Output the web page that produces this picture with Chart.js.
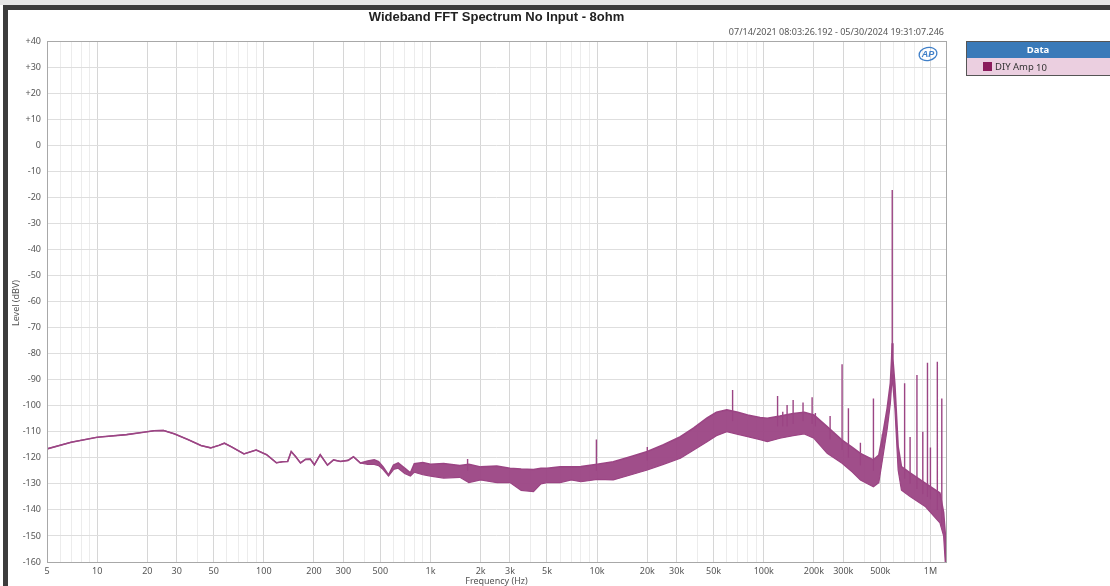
<!DOCTYPE HTML>
<html>
<head>
    <script src="https://cdn.jsdelivr.net/npm/chart.js"></script>
</head>
<body>
<style>
    * {
        margin: 0;
        padding: 0;
        box-sizing: border-box;
    }
    body {
        background: #ffffff;
        width: 1110px;
        height: 586px;
        overflow: hidden;
    }
</style>
<canvas id="myChart" width="1110" height="586"></canvas>
<script>
    // spectrum: frequency (Hz), upper and lower edge of the noise band (dBV)
    const freqs = [5, 7, 10, 15, 19, 22, 25, 29, 35, 42, 48, 54, 58, 64, 76, 90, 104, 119, 130, 139,
        146, 155, 166, 178, 190, 201, 218, 241, 262, 288, 320, 345, 380, 420, 460, 488, 520, 560, 600, 640,
        700, 758, 800, 900, 1000, 1200, 1500, 1700, 2000, 2500, 3000, 3500, 4150, 4600, 5000, 6000, 7000,
        8000, 10000, 12500, 16000, 20000, 25000, 31600, 38000, 45700, 52000, 60000, 70000, 80000, 95000,
        105000, 125000, 150000, 175000, 200000, 240000, 295000, 340000, 380000, 455000, 490000, 515000,
        550000, 575000, 585000, 590000, 595000, 612000, 640000, 670000, 755000, 935000, 1140000, 1200000,
        1230000, 1245000];
    const upperDb = [-116.6, -114.0, -112.1, -111.1, -110.2, -109.6, -109.5, -110.8, -113.0, -115.3, -116.2,
        -115.2, -114.4, -115.8, -118.5, -117.0, -118.8, -121.9, -121.5, -121.4,
        -117.6, -119.5, -122.0, -120.6, -120.5, -122.7, -118.8, -122.8, -120.8, -121.4, -121.0, -119.6,
        -122.0, -121.2, -120.8, -121.5, -123.5, -126.6, -122.8, -122.0,
        -124.0, -125.8, -122.3, -121.8, -122.5, -122.2, -123.0, -122.5, -123.5, -123.2, -124.0, -124.3,
        -124.5, -124.0, -124.0, -123.5, -123.5,
        -123.4, -122.5, -121.5, -119.5, -117.6, -115.0, -111.9, -108.5, -104.7, -102.5, -101.6, -102.5,
        -103.6, -104.5,
        -104.8, -104.0, -103.0, -102.5, -103.6, -108.0, -113.2, -116.0, -118.3, -120.8, -119.0, -111.9,
        -101.0, -91.3, -82.0, -76.0, -82.0, -92.0, -115.7, -123.4, -125.8, -129.8, -133.5, -141.0,
        -150.0, -166.0];
    const lowerDb = [-116.6, -114.0, -112.1, -111.1, -110.2, -109.6, -109.5, -110.8, -113.0, -115.3, -116.2,
        -115.2, -114.4, -115.8, -118.5, -117.0, -118.8, -121.9, -121.5, -121.4,
        -117.6, -119.5, -122.0, -120.6, -120.5, -122.7, -118.8, -122.8, -120.8, -121.4, -121.0, -119.6,
        -122.0, -122.5, -122.5, -123.0, -124.5, -127.0, -124.5, -124.0,
        -126.0, -127.0, -125.5, -126.5, -127.0, -127.8, -127.5, -129.5, -128.5, -129.5, -129.5, -132.5,
        -133.0, -130.0, -129.5, -129.5, -128.5,
        -129.2, -128.3, -128.5, -126.5, -124.7, -122.5, -120.2, -117.0, -113.8, -111.5, -110.0, -111.0,
        -111.9, -113.0,
        -113.8, -112.5, -111.5, -110.8, -112.5, -118.3, -122.1, -125.5, -128.5, -131.1, -129.5, -120.8,
        -109.0, -99.0, -92.0, -88.0, -92.0, -101.0, -124.7, -132.4, -134.9, -138.8, -145.0, -150.0,
        -161.0, -166.0];

    // discrete tones (spurs): frequency, peak level, level where it leaves the noise band
    const spikeFreqs = [1670, 9900, 20000, 65000, 121000, 130000, 138000, 150000, 172000, 195000, 204000,
        250000, 295000, 322000, 380000, 455000, 515000, 590000, 700000, 755000, 830000, 900000, 960000,
        1000000, 1100000, 1170000];
    const spikeTopDb = [-120.5, -113.0, -115.9, -94.0, -96.3, -102.3, -99.7, -97.8, -98.8, -96.8, -102.8,
        -104.0, -84.1, -101.0, -114.2, -97.2, -111.0, -17.2, -91.4, -112.0, -88.2, -110.0, -83.5,
        -116.0, -83.1, -97.2];
    const spikeBaseDb = [-125, -125, -121, -106, -108, -108, -108, -107, -106, -107, -108,
        -113, -117, -120, -123, -125, -116, -85, -128, -130, -132, -134, -135,
        -136, -140, -146];

    // axis ticks
    const majorFreqs = [5, 10, 20, 30, 50, 100, 200, 300, 500, 1000, 2000, 3000, 5000, 10000, 20000, 30000,
        50000, 100000, 200000, 300000, 500000, 1000000];
    const majorLabels = ['5', '10', '20', '30', '50', '100', '200', '300', '500', '1k', '2k', '3k', '5k', '10k',
        '20k', '30k', '50k', '100k', '200k', '300k', '500k', '1M'];
    const gridFreqs = [5, 6, 7, 8, 9, 10, 20, 30, 40, 50, 60, 70, 80, 90, 100, 200, 300, 400, 500, 600, 700,
        800, 900, 1000, 2000, 3000, 4000, 5000, 6000, 7000, 8000, 9000, 10000, 20000, 30000, 40000, 50000,
        60000, 70000, 80000, 90000, 100000, 200000, 300000, 400000, 500000, 600000, 700000, 800000, 900000,
        1000000];

    const traceColor = '#9b4584';

    const spikePoints = [];
    spikeFreqs.forEach((f, i) => {
        spikePoints.push({x: f, y: spikeBaseDb[i]}, {x: f, y: spikeTopDb[i]}, {x: f, y: null});
    });

    const frame = {
        id: 'frame',
        beforeDraw(chart) {
            const c = chart.ctx;
            c.save();
            c.fillStyle = '#ffffff';
            c.fillRect(0, 0, chart.width, chart.height);
            c.fillStyle = '#e6e6e6';
            c.fillRect(0, 0, chart.width, 5);
            c.fillStyle = '#3c3c3c';
            c.fillRect(3, 5, chart.width - 3, 5);
            c.fillRect(3, 5, 5, chart.height - 5);
            c.restore();
        },
        afterDraw(chart) {
            const c = chart.ctx;
            const a = chart.chartArea;
            c.save();
            // plot border
            c.strokeStyle = '#a8a8a8';
            c.lineWidth = 1;
            c.strokeRect(a.left + 0.5, a.top + 0.5, a.right - a.left, a.bottom - a.top);

            // titles
            c.fillStyle = '#222';
            c.font = 'bold 13px "Liberation Sans", Arial, sans-serif';
            c.textAlign = 'center';
            c.textBaseline = 'middle';
            c.fillText('Wideband FFT Spectrum No Input - 8ohm', (a.left + a.right) / 2, 17);
            c.fillStyle = '#555';
            c.font = '9px "Noto Sans", sans-serif';
            c.textAlign = 'right';
            c.fillText('07/14/2021 08:03:26.192 - 05/30/2024 19:31:07.246', a.right - 2, 32);

            // axis titles
            c.fillStyle = '#555';
            c.font = '9px "Noto Sans", sans-serif';
            c.textAlign = 'center';
            c.fillText('Frequency (Hz)', (a.left + a.right) / 2, 581);
            c.save();
            c.translate(16, 303);
            c.rotate(-Math.PI / 2);
            c.fillText('Level (dBV)', 0, 0);
            c.restore();

            // AP logo
            c.strokeStyle = '#3f7fc8';
            c.lineWidth = 1.3;
            c.beginPath();
            c.ellipse(928, 54, 9, 6.5, -0.2, 0, Math.PI * 2);
            c.stroke();
            c.fillStyle = '#3f7fc8';
            c.font = 'italic bold 9px "Liberation Sans", Arial, sans-serif';
            c.fillText('AP', 928, 54.5);

            // legend box
            const lx = 966, ly = 41, lw = 144;
            c.fillStyle = '#3a7ab9';
            c.fillRect(lx, ly, lw, 17);
            c.fillStyle = '#ebcfe0';
            c.fillRect(lx, ly + 17, lw, 17);
            c.strokeStyle = '#555';
            c.lineWidth = 1;
            c.strokeRect(lx + 0.5, ly + 0.5, lw, 34);
            c.fillStyle = '#ffffff';
            c.font = 'bold 9.5px "Noto Sans", sans-serif';
            c.textAlign = 'center';
            c.fillText('Data', lx + lw / 2, ly + 9);
            c.fillStyle = '#8a1c5c';
            c.fillRect(lx + 17, ly + 21, 9, 9);
            c.fillStyle = '#333';
            c.font = '9.5px "Noto Sans", sans-serif';
            c.textAlign = 'left';
            c.fillText('DIY Amp', lx + 29, ly + 26);
            c.fillText('10', lx + 70, ly + 27);
            c.restore();
        }
    };

    const ctx = document.getElementById('myChart');
    new Chart(ctx, {
        type: 'line',
        data: {
            datasets: [{
                label: 'DIY Amp 10 upper',
                data: freqs.map((f, i) => ({x: f, y: upperDb[i]})),
                borderColor: traceColor,
                backgroundColor: 'rgba(155, 69, 132, 0.95)',
                borderWidth: 1.6,
                pointRadius: 0,
                fill: '+1'
            }, {
                label: 'DIY Amp 10 lower',
                data: freqs.map((f, i) => ({x: f, y: lowerDb[i]})),
                borderColor: traceColor,
                borderWidth: 1.2,
                pointRadius: 0,
                fill: false
            }, {
                label: 'DIY Amp 10 spurs',
                data: spikePoints,
                borderColor: traceColor,
                borderWidth: 1.4,
                pointRadius: 0,
                spanGaps: false,
                fill: false
            }]
        },
        options: {
            responsive: false,
            animation: false,
            events: [],
            layout: {
                padding: {left: 0, top: 41, right: 164, bottom: 0}
            },
            plugins: {
                legend: {display: false},
                tooltip: {enabled: false}
            },
            scales: {
                x: {
                    type: 'logarithmic',
                    min: 5,
                    max: 1240000,
                    afterBuildTicks: (scale) => {
                        scale.ticks = gridFreqs.map(v => ({value: v}));
                    },
                    afterFit: (scale) => {
                        scale.height = 24;
                    },
                    ticks: {
                        autoSkip: false,
                        maxRotation: 0,
                        padding: 4,
                        color: '#555',
                        font: {size: 9, family: '"Noto Sans", sans-serif'},
                        callback: (value) => {
                            const i = majorFreqs.indexOf(value);
                            return i >= 0 ? majorLabels[i] : '';
                        }
                    },
                    grid: {
                        drawTicks: false,
                        color: (c) => (c.tick && majorFreqs.includes(c.tick.value)) ? '#d6d6d6' : '#ececec'
                    },
                    border: {display: false}
                },
                y: {
                    min: -160,
                    max: 40,
                    afterFit: (scale) => {
                        scale.width = 47;
                    },
                    ticks: {
                        stepSize: 10,
                        padding: 6,
                        color: '#555',
                        font: {size: 9, family: '"Noto Sans", sans-serif'},
                        callback: (v) => v > 0 ? '+' + v : String(v)
                    },
                    grid: {
                        drawTicks: false,
                        color: '#dedede'
                    },
                    border: {display: false}
                }
            }
        },
        plugins: [frame]
    });
</script>
</body>
</html>
